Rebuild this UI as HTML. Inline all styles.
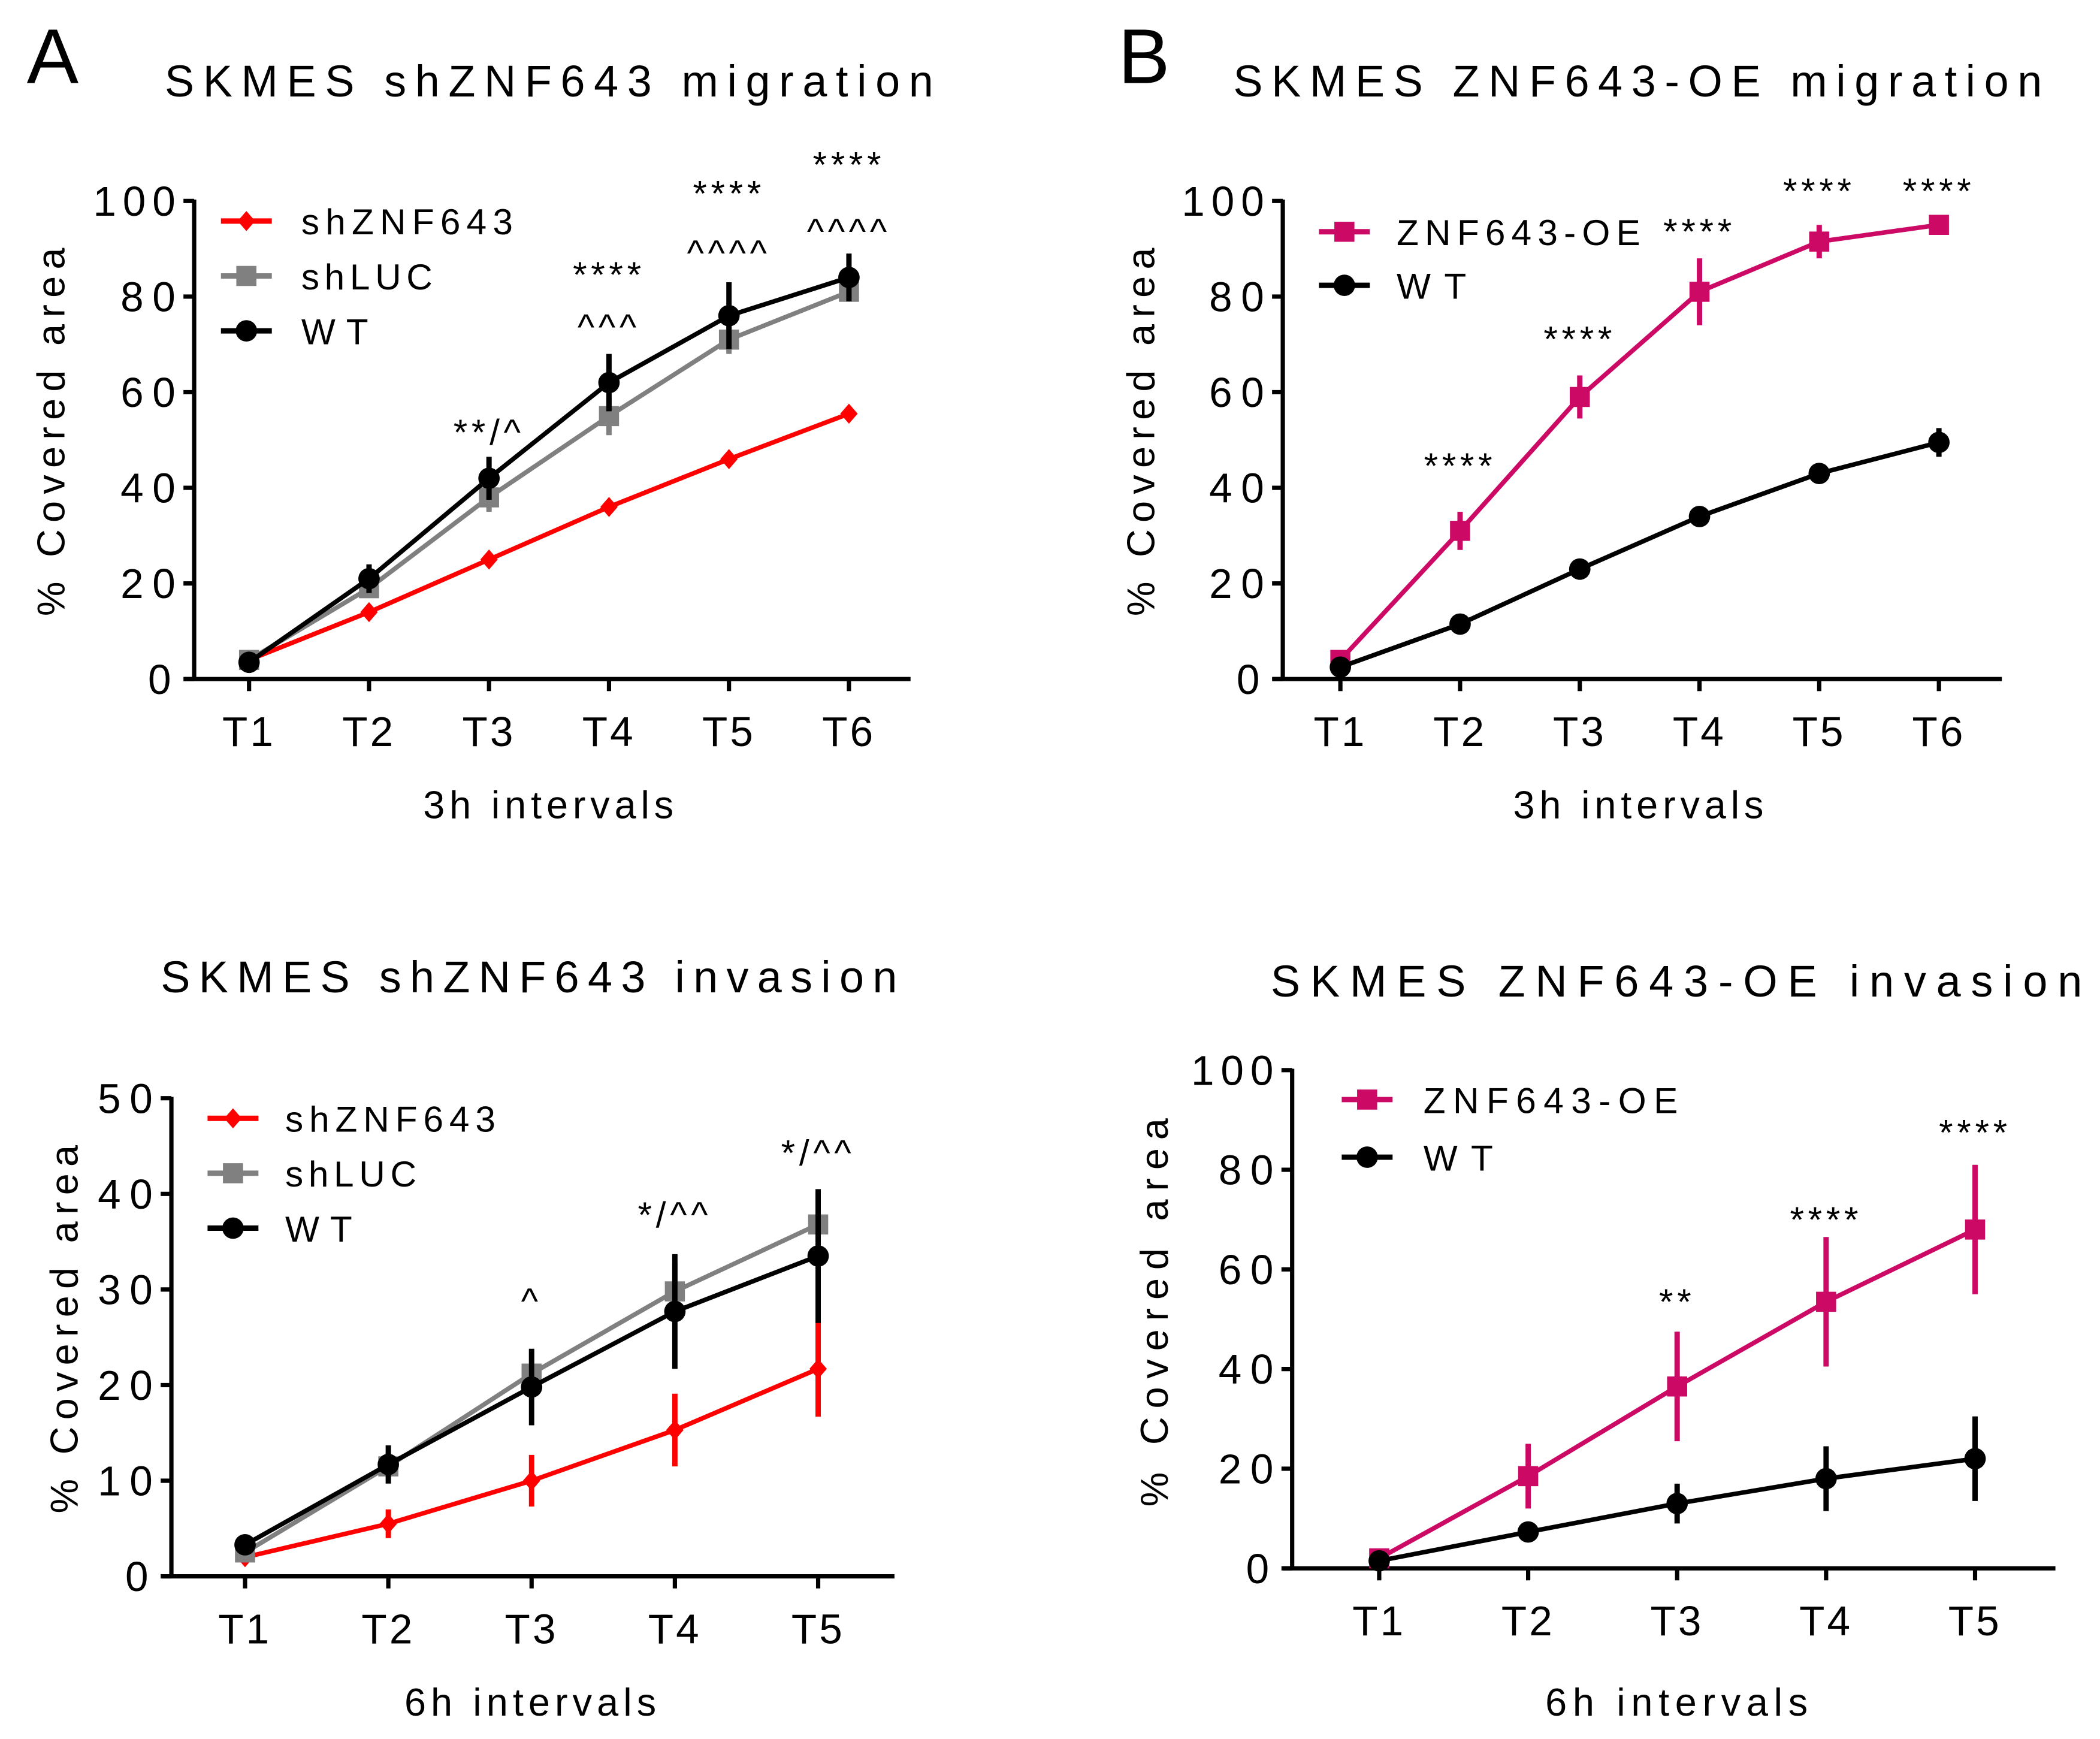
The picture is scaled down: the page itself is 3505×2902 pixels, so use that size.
<!DOCTYPE html>
<html><head><meta charset="utf-8"><style>
html,body{margin:0;padding:0;background:#fff;}
svg{display:block;font-family:"Liberation Sans",sans-serif;}
</style></head><body>
<svg id="fig" width="3505" height="2902" viewBox="0 0 1568.3 1298.4" xmlns="http://www.w3.org/2000/svg">
<rect width="1568.3" height="1298.4" fill="#fff"/>
<text x="20" y="62" font-size="58" fill="#000">A</text>
<text x="835" y="62" font-size="58" fill="#000">B</text>
</svg>
<script>
// ---- Chart A: SKMES shZNF643 migration ----
const catsA = ["T1","T2","T3","T4","T5","T6"];
const ticksA = [0,20,40,60,80,100];
const shZnfA = [4,14,25,36,46,55.5];
const shZnfErrA = [0.5,1.5,1,1,1,1];
const shLucA = [4,19,38,55,71,81];
const shLucErrA = [1,2,3,4,3,2];
const wtA = [3.5,21,42,62,76,84];
const wtErrA = [1,3,4.5,6,7,5];
const annotTextA = ["**/^","****","^^^","****","^^^^","****","^^^^"];
const annotCatA = [2,3,3,4,4,5,5];
const annotValA = [49,82,71,99,86.5,105,91];

// ---- Chart B: SKMES ZNF643-OE migration ----
const catsB = ["T1","T2","T3","T4","T5","T6"];
const ticksB = [0,20,40,60,80,100];
const oeB = [4,31,59,81,91.5,95];
const oeErrB = [1,4,4.5,7,3.5,2];
const wtB = [2.5,11.5,23,34,43,49.5];
const wtErrB = [0.5,1,1,1,1,3];
const annotTextB = ["****","****","****","****","****"];
const annotCatB = [1,2,3,4,5];
const annotValB = [42,68.5,91,99.5,99.5];

// ---- Chart C: SKMES shZNF643 invasion ----
const catsC = ["T1","T2","T3","T4","T5"];
const ticksC = [0,10,20,30,40,50];
const shZnfC = [2,5.5,10,15.3,21.7];
const shZnfErrC = [0.5,1.5,2.7,3.8,5];
const shLucC = [2.5,11.5,21.2,29.8,36.8];
const shLucErrC = [0.5,1.5,2.5,3,3.5];
const wtC = [3.3,11.7,19.8,27.7,33.5];
const wtErrC = [0.5,2,4,6,7];
const annotTextC = ["^","*/^^","*/^^"];
const annotCatC = [2,3,4];
const annotValC = [27.5,36.5,43];

// ---- Chart D: SKMES ZNF643-OE invasion ----
const catsD = ["T1","T2","T3","T4","T5"];
const ticksD = [0,20,40,60,80,100];
const oeD = [2,18.5,36.5,53.5,68];
const oeErrD = [1,6.5,11,13,13];
const wtD = [1.5,7.3,13,18,22];
const wtErrD = [0.5,1,4,6.5,8.5];
const annotTextD = ["**","****","****"];
const annotCatD = [2,3,4];
const annotValD = [51,67.5,85];

const NS = "http://www.w3.org/2000/svg";
const svg = document.getElementById("fig");
function mk(tag, attrs, parent, text){
  const e = document.createElementNS(NS, tag);
  for (const k in attrs) e.setAttribute(k, attrs[k]);
  if (text !== undefined) e.textContent = text;
  (parent||svg).appendChild(e);
  return e;
}
function marker(g, shape, x, y, color){
  let m;
  if (shape === "circle") m = mk("circle",{cx:x,cy:y,r:8,fill:color},g);
  else if (shape === "square") m = mk("rect",{x:x-7.5,y:y-7.5,width:15,height:15,fill:color},g);
  else m = mk("polygon",{points:`${x},${y-7.5} ${x+6.5},${y} ${x},${y+7.5} ${x-6.5},${y}`,fill:color},g);
  return m;
}
function chart(c){
  const g = mk("g",{});
  
  
  const ymax = c.ticks[c.ticks.length-1];
  const ys = v => c.y0 + (c.y1 - c.y0) * v / ymax;
  const xs = i => c.xT1 + (c.xTn - c.xT1) * i / (c.cats.length-1);
  const t = mk("text",{x:c.title[1],y:c.title[3],textLength:c.title[2]-c.title[1],lengthAdjust:"spacing","font-size":33},g,c.title[0]);
  
  
  const ya = mk("line",{x1:c.ax,y1:c.y1-1,x2:c.ax,y2:c.y0+1.5,stroke:"#000","stroke-width":3.2},g);
  
  
  const xa = mk("line",{x1:c.ax-7,y1:c.y0,x2:c.xEnd,y2:c.y0,stroke:"#000","stroke-width":3.2},g);
  
  
  c.ticks.forEach(v=>{
    mk("line",{x1:c.ax-8,y1:ys(v),x2:c.ax,y2:ys(v),stroke:"#000","stroke-width":3.2},g);
    const w = String(v).length*20.5;
    const tl = mk("text",{x:c.ax-14-w,y:ys(v)+11,textLength:w,lengthAdjust:"spacing","font-size":31},g,String(v));
    
    
  });
  c.cats.forEach((k,i)=>{
    mk("line",{x1:xs(i),y1:c.y0,x2:xs(i),y2:c.y0+9,stroke:"#000","stroke-width":3.2},g);
    const tl = mk("text",{x:xs(i)-1,y:c.y0+50,"text-anchor":"middle","font-size":31,textLength:38,lengthAdjust:"spacing"},g,k);
    
    
  });
  const xt = mk("text",{x:c.xtitle[1],y:c.xtitle[2],textLength:c.xtitle[3],lengthAdjust:"spacing","font-size":29},g,c.xtitle[0]);
  
  
  const yt = mk("text",{x:0,y:0,transform:`translate(${c.ylab[0]},${c.ylab[2]}) rotate(-90)`,textLength:c.ylab[2]-c.ylab[1],lengthAdjust:"spacing","font-size":29},g,"% Covered area");
  
  
  c.series.forEach(s=>{
    const sg = mk("g",{},g);
    
    
    s.vals.forEach((v,i)=>{
      const eb = mk("line",{x1:xs(i),y1:ys(v-s.err[i]),x2:xs(i),y2:ys(v+s.err[i]),stroke:s.color,"stroke-width":4},sg);
      
      
    });
    const pts = s.vals.map((v,i)=>xs(i)+","+ys(v)).join(" ");
    const pl = mk("polyline",{points:pts,fill:"none",stroke:s.color,"stroke-width":3.4},sg);
    
    
    s.vals.forEach((v,i)=>{
      const m = marker(sg, s.shape, xs(i), ys(v), s.color);
      
      
    });
  });
  c.series.forEach((s,j)=>{
    const ly = c.leg[2] + j*c.leg[3];
    const lg = mk("g",{},g);
    
    
    mk("line",{x1:c.leg[0],y1:ly,x2:c.leg[0]+38,y2:ly,stroke:s.color,"stroke-width":4},lg);
    marker(lg, s.shape, c.leg[0]+19, ly, s.color);
    mk("text",{x:c.leg[1],y:ly+10,textLength:s.lw,lengthAdjust:"spacing","font-size":27},lg,s.label);
  });
  c.annot[0].forEach((txt,i)=>{
    const a = mk("text",{x:xs(c.annot[1][i]),y:ys(c.annot[2][i]),"text-anchor":"middle","font-size":27,"letter-spacing":3},g,txt);
    
    
  });
}
const RED="#ff0000", GREY="#808080", BLK="#000000", MAG="#cc0a66";
chart({name:"chart-a-migration",cats:catsA,ticks:ticksA,ax:145,y0:507,y1:150,xT1:186,xTn:634,xEnd:680,
  title:["SKMES shZNF643 migration",123,697,72],xtitle:["3h intervals",316,611,187],ylab:[48,185,460],
  leg:[165,225,165,41],
  series:[{key:"shznf643",label:"shZNF643",vals:shZnfA,err:shZnfErrA,color:RED,shape:"diamond",lw:158},
          {key:"shluc",label:"shLUC",vals:shLucA,err:shLucErrA,color:GREY,shape:"square",lw:98},
          {key:"wt",label:"WT",vals:wtA,err:wtErrA,color:BLK,shape:"circle",lw:50}],
  annot:[annotTextA,annotCatA,annotValA]});
chart({name:"chart-b-migration",cats:catsB,ticks:ticksB,ax:958,y0:507,y1:150,xT1:1001,xTn:1448,xEnd:1495,
  title:["SKMES ZNF643-OE migration",921,1525,72],xtitle:["3h intervals",1130,611,187],ylab:[862,185,460],
  leg:[985,1043,173,40],
  series:[{key:"znf643-oe",label:"ZNF643-OE",vals:oeB,err:oeErrB,color:MAG,shape:"square",lw:182},
          {key:"wt",label:"WT",vals:wtB,err:wtErrB,color:BLK,shape:"circle",lw:52}],
  annot:[annotTextB,annotCatB,annotValB]});
chart({name:"chart-c-invasion",cats:catsC,ticks:ticksC,ax:128,y0:1177,y1:820,xT1:183,xTn:611,xEnd:668,
  title:["SKMES shZNF643 invasion",120,670,741],xtitle:["6h intervals",302,1281,188],ylab:[58,855,1130],
  leg:[155,213,835,41],
  series:[{key:"shznf643",label:"shZNF643",vals:shZnfC,err:shZnfErrC,color:RED,shape:"diamond",lw:157},
          {key:"shluc",label:"shLUC",vals:shLucC,err:shLucErrC,color:GREY,shape:"square",lw:98},
          {key:"wt",label:"WT",vals:wtC,err:wtErrC,color:BLK,shape:"circle",lw:50}],
  annot:[annotTextC,annotCatC,annotValC]});
chart({name:"chart-d-invasion",cats:catsD,ticks:ticksD,ax:965,y0:1171,y1:799,xT1:1030,xTn:1475,xEnd:1535,
  title:["SKMES ZNF643-OE invasion",949,1555,744],xtitle:["6h intervals",1154,1281,196],ylab:[872,835,1125],
  leg:[1002,1063,821,43],
  series:[{key:"znf643-oe",label:"ZNF643-OE",vals:oeD,err:oeErrD,color:MAG,shape:"square",lw:190},
          {key:"wt",label:"WT",vals:wtD,err:wtErrD,color:BLK,shape:"circle",lw:52}],
  annot:[annotTextD,annotCatD,annotValD]});
</script>
</body></html>
